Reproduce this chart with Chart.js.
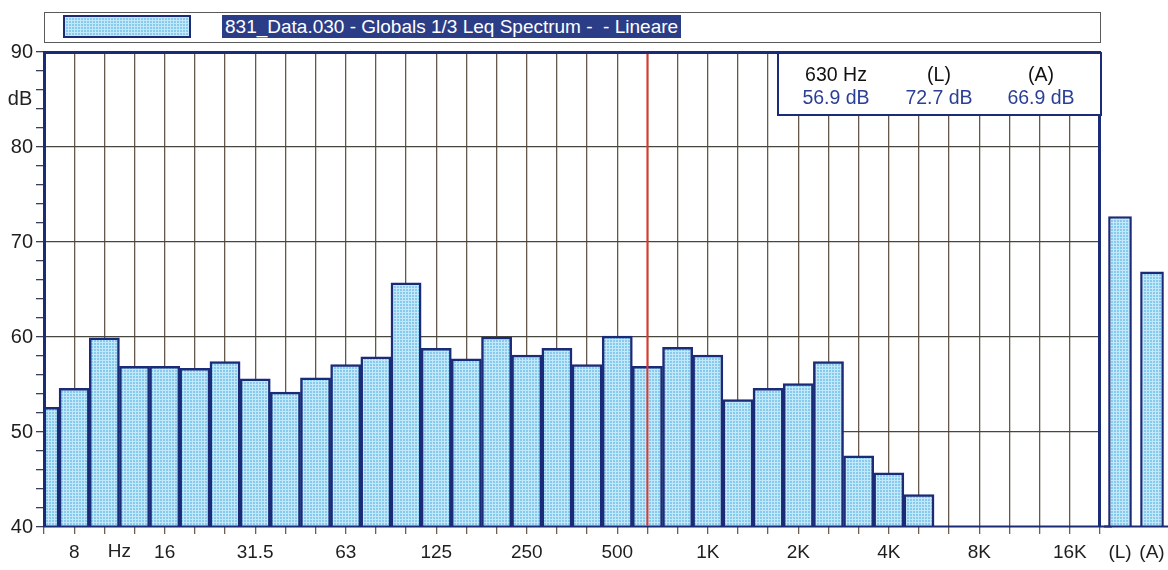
<!DOCTYPE html>
<html>
<head>
<meta charset="utf-8">
<script src="https://cdn.jsdelivr.net/npm/chart.js@4.4.1/dist/chart.umd.min.js"></script>
<style>
  html, body { margin: 0; padding: 0; background: #fff; }
  #wrap { position: relative; width: 1168px; height: 570px; overflow: hidden;
          font-family: "Liberation Sans", Arial, sans-serif; }
  #main { position: absolute; left: 0; top: 0; }
  #totals { position: absolute; left: 1104px; top: 0; }
  #legend { position: absolute; left: 44px; top: 12px; width: 1057px; height: 31px;
            border: 1px solid #5a5a5a; box-sizing: border-box; background: #fff; }
  #swatch { position: absolute; left: 18px; top: 2px; width: 128px; height: 23px;
            border: 2px solid #1b2b78; box-sizing: border-box; background-color: #86caee;
            background-image: linear-gradient(#c2e8f9 1px, transparent 1px),
                              linear-gradient(90deg, #c2e8f9 1px, transparent 1px);
            background-size: 3px 3px; }
  #title { position: absolute; left: 177px; top: 2px; height: 23px; padding: 0 3px;
           background: #2b3d86; color: #fff; font-size: 19px; line-height: 23px; white-space: pre; }
  #readout { position: absolute; left: 777px; top: 52px; width: 325px; height: 64px;
             border: 2px solid #1b2b78; box-sizing: border-box; background: #fff; }
  #readout span { position: absolute; width: 120px; text-align: center; font-size: 19.5px;
                  line-height: 23px; white-space: nowrap; }
  #readout .lab { top: 9px; color: #111; }
  #readout .val { top: 32px; color: #2a3f95; }
</style>
</head>
<body>
<div id="wrap">
  <canvas id="main" width="1112" height="570"></canvas>
  <canvas id="totals" width="64" height="570"></canvas>
  <div id="legend"><div id="swatch"></div><div id="title"></div></div>
  <div id="readout"></div>
</div>
<script>
// 1/3 octave band centres, 6.3 Hz .. 20 kHz
var bandLabels = ['6.3', '8', '10', '12.5', '16', '20', '25', '31.5', '40', '50',
                  '63', '80', '100', '125', '160', '200', '250', '315', '400', '500',
                  '630', '800', '1K', '1.25K', '1.6K', '2K', '2.5K', '3.15K', '4K', '5K',
                  '6.3K', '8K', '10K', '12.5K', '16K', '20K'];
// Leq per band in dB (bands above 5K are below the 40 dB floor)
var bandLevels = [52.6, 54.6, 59.9, 56.9, 56.9, 56.7, 57.4, 55.6, 54.2, 55.7,
                  57.1, 57.9, 65.7, 58.8, 57.7, 60.0, 58.1, 58.8, 57.1, 60.1,
                  56.9, 58.9, 58.1, 53.4, 54.6, 55.1, 57.4, 47.5, 45.7, 43.4,
                  null, null, null, null, null, null];
// bands that carry a label on the frequency axis
var axisLabels = ['8', '16', '31.5', '63', '125', '250', '500', '1K', '2K', '4K', '8K', '16K'];
// overall levels, linear and A-weighted
var totalLabels = ['(L)', '(A)'];
var totalLevels = [72.7, 66.9];
var cursorBand = '630';
var seriesName = '831_Data.030 - Globals 1/3 Leq Spectrum -  - Lineare';

var NAVY = '#1b2b78';
var FONT = '"Liberation Sans", Arial, sans-serif';
var cursorIndex = bandLabels.indexOf(cursorBand);

// fine halftone look of the printed bars
function barPattern() {
  var c = document.createElement('canvas');
  c.width = 3; c.height = 3;
  var g = c.getContext('2d');
  g.fillStyle = '#86caee'; g.fillRect(0, 0, 3, 3);
  g.fillStyle = '#c2e8f9'; g.fillRect(0, 0, 3, 1); g.fillRect(0, 0, 1, 3);
  return g.createPattern(c, 'repeat');
}
var fill = barPattern();

// header + cursor readout
document.getElementById('title').textContent = seriesName;
var readout = document.getElementById('readout');
[[cursorBand + ' Hz', bandLevels[cursorIndex], 57],
 [totalLabels[0], totalLevels[0], 160],
 [totalLabels[1], totalLevels[1], 262]].forEach(function (col) {
  var lab = document.createElement('span');
  lab.className = 'lab'; lab.style.left = (col[2] - 60) + 'px'; lab.textContent = col[0];
  var val = document.createElement('span');
  val.className = 'val'; val.style.left = (col[2] - 60) + 'px'; val.textContent = col[1].toFixed(1) + ' dB';
  readout.appendChild(lab); readout.appendChild(val);
});

// navy frame, bottom rule, cursor line and the two loose axis captions
var framePlugin = {
  id: 'frame',
  afterDatasetsDraw: function (chart) {
    var a = chart.chartArea, ctx = chart.ctx;
    var x = chart.scales.x, y = chart.scales.y;
    ctx.save();
    ctx.strokeStyle = NAVY;
    ctx.lineWidth = 3;
    ctx.beginPath();
    ctx.moveTo(a.left + 0.5, a.bottom);
    ctx.lineTo(a.left + 0.5, a.top + 0.5);
    ctx.lineTo(a.right - 0.5, a.top + 0.5);
    ctx.lineTo(a.right - 0.5, a.bottom);
    ctx.stroke();
    ctx.lineWidth = 2;
    ctx.beginPath();
    ctx.moveTo(a.left, a.bottom - 0.5);
    ctx.lineTo(chart.width, a.bottom - 0.5);
    ctx.stroke();
    var cx = x.getPixelForValue(cursorIndex);
    ctx.strokeStyle = '#e2352b';
    ctx.lineWidth = 2;
    ctx.beginPath();
    ctx.moveTo(cx, a.top + 2);
    ctx.lineTo(cx, a.bottom - 1);
    ctx.stroke();
    ctx.fillStyle = '#222';
    ctx.font = '19px ' + FONT;
    ctx.textAlign = 'center';
    ctx.textBaseline = 'middle';
    ctx.fillText('Hz', (x.getPixelForValue(2) + x.getPixelForValue(3)) / 2, a.bottom + 25);
    ctx.font = '20px ' + FONT;
    ctx.fillText('dB', 20, y.getPixelForValue(85));
    ctx.restore();
  }
};

var bottomRule = {
  id: 'bottomRule',
  afterDatasetsDraw: function (chart) {
    var ctx = chart.ctx, a = chart.chartArea;
    ctx.save();
    ctx.strokeStyle = NAVY;
    ctx.lineWidth = 2;
    ctx.beginPath();
    ctx.moveTo(0, a.bottom - 0.5);
    ctx.lineTo(chart.width, a.bottom - 0.5);
    ctx.stroke();
    ctx.restore();
  }
};

var lastBand = bandLabels.length - 1;

new Chart(document.getElementById('main'), {
  type: 'bar',
  data: {
    labels: bandLabels,
    datasets: [{
      data: bandLevels,
      backgroundColor: fill,
      borderColor: NAVY,
      borderWidth: 2.5,
      borderSkipped: false,
      barPercentage: 1,
      categoryPercentage: 1,
      clip: 0
    }]
  },
  options: {
    responsive: false,
    animation: false,
    layout: { padding: { top: 52, right: 12, left: 0, bottom: 0 } },
    plugins: { legend: { display: false }, tooltip: { enabled: false } },
    scales: {
      x: {
        offset: false,
        grid: {
          offset: false,
          lineWidth: 1.3,
          color: function (c) {
            return (c.index === 0 || c.index === lastBand) ? 'rgba(0,0,0,0)' : '#65584a';
          },
          tickColor: '#6d6052',
          tickLength: 7
        },
        border: { display: false },
        ticks: {
          autoSkip: false,
          maxRotation: 0,
          padding: 7,
          color: '#1e1e1e',
          font: { family: FONT, size: 19 },
          callback: function (v, i) {
            return axisLabels.indexOf(bandLabels[i]) >= 0 ? bandLabels[i] : '';
          }
        },
        afterFit: function (s) { s.height = 43; }
      },
      y: {
        min: 40,
        max: 90,
        grid: {
          lineWidth: 1.3,
          color: function (c) {
            var v = c.tick.value;
            return (v % 10 === 0 && v !== 40 && v !== 90) ? '#46473f' : 'rgba(0,0,0,0)';
          },
          tickColor: '#3a3f5a',
          tickLength: 8
        },
        border: { display: false },
        ticks: {
          stepSize: 2,
          autoSkip: false,
          padding: 3,
          color: '#1e1e1e',
          font: { family: FONT, size: 20 },
          callback: function (v) { return v % 10 === 0 ? v : ''; }
        },
        afterFit: function (s) { s.width = 44; }
      }
    }
  },
  plugins: [framePlugin]
});

new Chart(document.getElementById('totals'), {
  type: 'bar',
  data: {
    labels: totalLabels,
    datasets: [{
      data: totalLevels,
      backgroundColor: fill,
      borderColor: NAVY,
      borderWidth: 2.5,
      borderSkipped: false,
      barPercentage: 0.74,
      categoryPercentage: 1
    }]
  },
  options: {
    responsive: false,
    animation: false,
    layout: { padding: { top: 52, right: 0, left: 0, bottom: 0 } },
    plugins: { legend: { display: false }, tooltip: { enabled: false } },
    scales: {
      x: {
        grid: { display: false, tickLength: 14 },
        border: { display: false },
        ticks: { padding: 0, color: '#1e1e1e', font: { family: FONT, size: 19 } },
        afterFit: function (s) { s.height = 43; }
      },
      y: { display: false, min: 40, max: 90 }
    }
  },
  plugins: [bottomRule]
});
</script>
</body>
</html>
